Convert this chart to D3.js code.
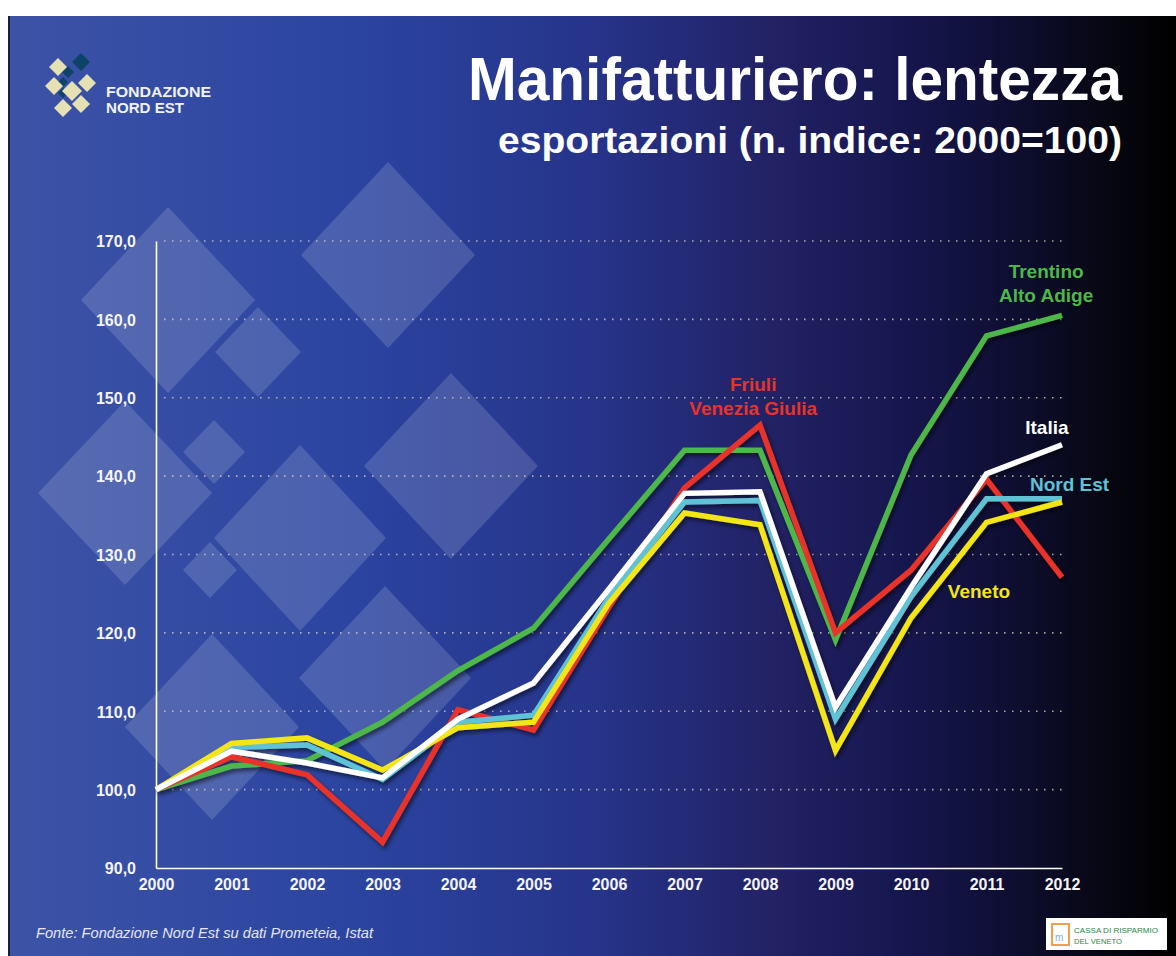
<!DOCTYPE html>
<meta charset="utf-8">
<script src="https://d3js.org/d3.v7.min.js"></script>
<style>
  body { margin: 0; background: #fff; }
  text { font-family: "Liberation Sans", Arial, sans-serif; }
</style>
<svg id="chart" width="1176" height="956"></svg>
<script>

// data (export index, 2000 = 100)
const years = [2000, 2001, 2002, 2003, 2004, 2005, 2006, 2007, 2008, 2009, 2010, 2011, 2012];
const trentino = [100, 103.0, 103.7, 108.6, 115.2, 120.6, 132.0, 143.3, 143.3, 119.1, 142.7, 157.9, 160.5];
const friuli   = [100, 104.2, 101.9, 93.3, 110.2, 107.6, 123.3, 138.5, 146.5, 120.0, 128.0, 139.6, 127.1];
const nordEst  = [100, 105.4, 105.7, 101.3, 108.6, 109.5, 124.5, 136.7, 136.9, 109.0, 124.6, 137.1, 137.1];
const veneto   = [100, 105.9, 106.6, 102.5, 107.9, 108.6, 123.8, 135.3, 133.8, 105.0, 121.9, 134.1, 136.7];
const italia   = [100, 104.9, 103.4, 101.5, 109.0, 113.6, 125.6, 137.8, 138.0, 110.5, 125.8, 140.3, 144.0];
const yTicks = [90, 100, 110, 120, 130, 140, 150, 160, 170];

const series = [
  { name: "Trentino Alto Adige", values: trentino, color: "#4db848" },
  { name: "Friuli Venezia Giulia", values: friuli, color: "#e8332a" },
  { name: "Nord Est", values: nordEst, color: "#5ec3d5" },
  { name: "Veneto", values: veneto, color: "#f4e614" },
  { name: "Italia", values: italia, color: "#ffffff" }
];

// labels anchored in data space (year, index value)
const labels = [
  { lines: ["Trentino", "Alto Adige"], color: "#4db848", year: 2011.79, value: 165.3 },
  { lines: ["Friuli", "Venezia Giulia"], color: "#e8332a", year: 2007.91, value: 150.8 },
  { lines: ["Italia"], color: "#ffffff", year: 2011.8, value: 145.4 },
  { lines: ["Nord Est"], color: "#5ec3d5", year: 2012.1, value: 138.1 },
  { lines: ["Veneto"], color: "#f4e614", year: 2010.9, value: 124.4 }
];

const svg = d3.select("#chart");
const defs = svg.append("defs");

// background gradient
const bg = defs.append("linearGradient").attr("id", "bg").attr("x1", 0).attr("x2", 1).attr("y1", 0).attr("y2", 0);
[[0, "#3c53a6"], [0.3, "#2b44a0"], [0.5, "#26348a"], [0.65, "#222266"], [0.77, "#16164e"],
 [0.86, "#0e0e32"], [0.94, "#070712"], [1, "#000000"]]
  .forEach(s => bg.append("stop").attr("offset", s[0]).attr("stop-color", s[1]));

const shadow = defs.append("filter").attr("id", "shadow")
  .attr("x", "-10%").attr("y", "-10%").attr("width", "120%").attr("height", "130%");
shadow.append("feDropShadow").attr("dx", 2).attr("dy", 3).attr("stdDeviation", 2)
  .attr("flood-color", "#000").attr("flood-opacity", 0.55);

svg.append("rect").attr("width", 1176).attr("height", 956).attr("fill", "#fff");
svg.append("rect").attr("x", 8).attr("y", 16).attr("width", 1168).attr("height", 940).attr("fill", "url(#bg)");
svg.append("rect").attr("x", 8).attr("y", 16).attr("width", 2).attr("height", 940).attr("fill", "#1b1d40");

// decorative diamonds
const diamonds = [
  [168, 300, 87, 93], [258, 352, 43, 45], [388, 255, 87, 93], [214, 452, 31, 32],
  [125, 493, 87, 92], [300, 538, 86, 93], [451, 466, 87, 93], [210, 570, 27, 28],
  [212, 727, 87, 93], [385, 678, 86, 92]
];
svg.append("g").selectAll("path").data(diamonds).join("path")
  .attr("d", d => `M${d[0]},${d[1] - d[3]}L${d[0] + d[2]},${d[1]}L${d[0]},${d[1] + d[3]}L${d[0] - d[2]},${d[1]}Z`)
  .attr("fill", "#ffffff").attr("fill-opacity", 0.15);

// Fondazione Nord Est logo
const logo = svg.append("g");
const logoDark = [[81, 62, 9], [68, 72, 6], [63, 82, 5], [63, 93, 5]];
const logoLight = [[58, 67, 9], [54, 86, 9], [72, 91, 10], [87, 83, 9], [63, 108, 9], [81, 104, 9]];
logo.selectAll(".dk").data(logoDark).join("path").attr("class", "dk")
  .attr("d", d => `M${d[0]},${d[1] - d[2]}L${d[0] + d[2]},${d[1]}L${d[0]},${d[1] + d[2]}L${d[0] - d[2]},${d[1]}Z`)
  .attr("fill", "#0b4466");
logo.selectAll(".lt").data(logoLight).join("path").attr("class", "lt")
  .attr("d", d => `M${d[0]},${d[1] - d[2]}L${d[0] + d[2]},${d[1]}L${d[0]},${d[1] + d[2]}L${d[0] - d[2]},${d[1]}Z`)
  .attr("fill", "#e6e1b4");
logo.append("text").attr("x", 106).attr("y", 97).attr("fill", "#f2f2f2")
  .attr("font-size", 14).attr("font-weight", "bold")
  .attr("textLength", 105).attr("lengthAdjust", "spacingAndGlyphs").text("FONDAZIONE");
logo.append("text").attr("x", 106).attr("y", 113).attr("fill", "#f2f2f2")
  .attr("font-size", 14).attr("font-weight", "bold")
  .attr("textLength", 78).attr("lengthAdjust", "spacingAndGlyphs").text("NORD EST");

// titles
svg.append("text").attr("x", 468).attr("y", 100).attr("fill", "#fff")
  .attr("font-size", 61).attr("font-weight", "bold")
  .attr("textLength", 654).attr("lengthAdjust", "spacingAndGlyphs")
  .text("Manifatturiero: lentezza");
svg.append("text").attr("x", 498).attr("y", 153).attr("fill", "#fff")
  .attr("font-size", 36).attr("font-weight", "bold")
  .attr("textLength", 624).attr("lengthAdjust", "spacingAndGlyphs")
  .text("esportazioni (n. indice: 2000=100)");

// scales
const x = d3.scaleLinear().domain([2000, 2012]).range([156, 1062]);
const y = d3.scaleLinear().domain([90, 170]).range([868, 241]);

// dotted gridlines
svg.append("g").selectAll("line").data(yTicks.slice(1)).join("line")
  .attr("x1", x(2000) + 8).attr("x2", x(2012))
  .attr("y1", d => y(d)).attr("y2", d => y(d))
  .attr("stroke", "#d9d6b0").attr("stroke-opacity", 0.75)
  .attr("stroke-width", 1.6).attr("stroke-dasharray", "1.6,6.4");

// axes
const yAxis = svg.append("g").attr("transform", `translate(${x(2000)},0)`)
  .call(d3.axisLeft(y).tickValues(yTicks).tickSize(0).tickPadding(20)
    .tickFormat(d => d.toFixed(1).replace(".", ",")));
const xAxis = svg.append("g").attr("transform", `translate(0,${y(90)})`)
  .call(d3.axisBottom(x).tickValues(years).tickSize(0).tickPadding(11).tickFormat(d3.format("d")));
[yAxis, xAxis].forEach(a => {
  a.select(".domain").attr("stroke", "#ffffff").attr("stroke-width", 1.6);
  a.selectAll("text").attr("fill", "#f4f4f4").attr("font-size", 16).attr("font-weight", "bold")
    .attr("font-family", "Liberation Sans, Arial, sans-serif");
});
yAxis.selectAll("text").attr("dy", "0.36em");

// series lines
const line = d3.line().x((d, i) => x(years[i])).y(d => y(d));
svg.append("g").attr("filter", "url(#shadow)").selectAll("path").data(series).join("path")
  .attr("d", d => line(d.values))
  .attr("fill", "none").attr("stroke", d => d.color).attr("stroke-width", 5.5)
  .attr("stroke-linejoin", "miter").attr("stroke-miterlimit", 12);

// series labels
const lab = svg.append("g").selectAll("text").data(labels).join("text")
  .attr("x", d => x(d.year)).attr("y", d => y(d.value))
  .attr("text-anchor", "middle").attr("fill", d => d.color)
  .attr("font-size", 19).attr("font-weight", "bold");
lab.selectAll("tspan").data(d => d.lines.map(t => ({ t, x: x(d.year) }))).join("tspan")
  .attr("x", d => d.x).attr("dy", (d, i) => i ? 24 : 0).text(d => d.t);

// footer
svg.append("text").attr("x", 36).attr("y", 938).attr("fill", "#e4e6f0")
  .attr("font-size", 14).attr("font-style", "italic")
  .attr("textLength", 337).attr("lengthAdjust", "spacingAndGlyphs")
  .text("Fonte: Fondazione Nord Est su dati Prometeia, Istat");

// Cassa di Risparmio del Veneto badge
const cr = svg.append("g");
cr.append("rect").attr("x", 1046).attr("y", 918).attr("width", 121).attr("height", 32).attr("fill", "#fff");
cr.append("rect").attr("x", 1052).attr("y", 924).attr("width", 17).attr("height", 21)
  .attr("fill", "none").attr("stroke", "#f0a050").attr("stroke-width", 2);
cr.append("text").attr("x", 1055).attr("y", 941).attr("fill", "#8ab0d8").attr("font-size", 10).text("m");
cr.append("text").attr("x", 1074).attr("y", 933).attr("fill", "#1e8a48")
  .attr("font-family", "Liberation Serif, serif").attr("font-size", 8)
  .attr("textLength", 84).attr("lengthAdjust", "spacingAndGlyphs").text("CASSA DI RISPARMIO");
cr.append("text").attr("x", 1074).attr("y", 944).attr("fill", "#1e8a48")
  .attr("font-family", "Liberation Serif, serif").attr("font-size", 8)
  .attr("textLength", 48).attr("lengthAdjust", "spacingAndGlyphs").text("DEL VENETO");

</script>
